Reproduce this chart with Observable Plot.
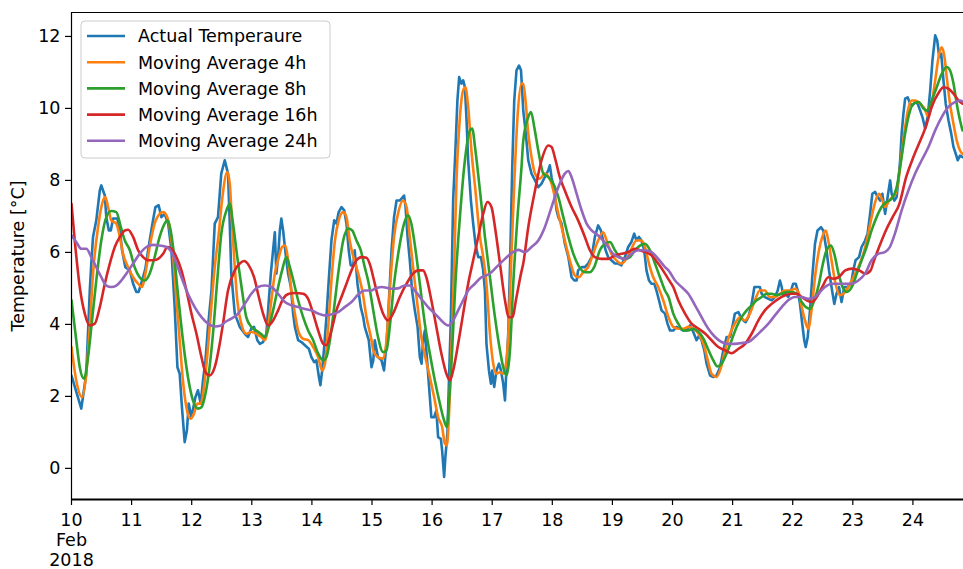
<!DOCTYPE html>
<html>
<head>
<meta charset="utf-8">
<script src="https://cdn.jsdelivr.net/npm/d3@7"></script>
<script src="https://cdn.jsdelivr.net/npm/@observablehq/plot@0.6"></script>
<style>
  html, body { margin: 0; padding: 0; background: #fff; }
  #chart { width: 963px; height: 569px; overflow: hidden; }
</style>
</head>
<body>
<div id="chart"></div>
<script>
// Hourly temperature readings, 10–24 Feb 2018, and their trailing moving averages.
// Each point is [hours since 2018-02-10 00:00 UTC, °C].
const actual = [[0,2.58],[3.9,1.66],[5.9,2.63],[7.3,4.94],[7.9,5.69],[8.6,6.43],[9.9,6.89],[11.3,7.72],[11.9,7.86],[13.3,7.58],[13.9,6.98],[14.9,6.61],[15.7,6.61],[16.6,6.94],[18.3,6.94],[19.3,6.61],[20.2,6.06],[21.5,5.59],[23.3,5.5],[24.6,5.13],[25.9,4.9],[26.8,4.9],[28.2,5.22],[29.5,5.55],[30.6,6.06],[32.2,6.75],[33.5,7.26],[34.8,7.31],[35.9,6.98],[37.2,7.07],[38.6,6.8],[39.9,6.06],[41.2,4.48],[42.3,2.81],[43.2,2.63],[44.1,1.7],[45.2,0.73],[46.1,1.06],[46.8,1.8],[47.9,1.42],[49.5,1.98],[50.5,2.17],[51.6,1.8],[52.5,2.44],[53.5,3.0],[54.5,3.93],[55.9,4.94],[57.2,6.8],[58.5,6.98],[59.8,8.19],[61.2,8.56],[62.5,8.19],[63.2,6.8],[63.8,5.41],[65.2,4.3],[67.2,3.93],[69.2,3.74],[70.5,3.65],[71.8,3.88],[72.9,3.93],[74.2,3.56],[75.2,3.46],[76.5,3.51],[77.8,3.74],[78.5,4.39],[79.6,5.41],[80.5,6.06],[81.2,6.56],[81.8,5.41],[82.5,5.87],[83.2,6.61],[83.8,6.94],[84.5,6.61],[85.2,6.15],[85.8,5.78],[86.5,5.41],[87.6,5.04],[88.5,4.3],[89.2,3.93],[90.5,3.56],[91.8,3.51],[93.2,3.42],[94.8,3.32],[95.8,3.09],[96.9,2.95],[97.8,3.0],[98.8,2.54],[99.4,2.31],[100.1,2.72],[100.9,3.37],[101.8,4.2],[102.8,5.31],[103.8,6.33],[104.9,6.89],[105.8,6.8],[106.7,7.12],[107.8,7.26],[108.9,7.17],[109.8,6.8],[110.7,6.06],[111.5,5.64],[112.5,5.64],[113.1,6.06],[114.2,5.13],[115.5,4.48],[116.5,4.2],[117.1,3.93],[118.7,3.56],[119.8,2.81],[120.5,3.0],[121.1,3.56],[122.4,3.09],[123.8,3.0],[124.8,2.72],[125.8,3.46],[126.7,4.58],[127.8,6.06],[128.8,6.98],[129.8,7.44],[131.1,7.44],[132.8,7.58],[133.4,7.26],[134.2,6.43],[135.1,5.78],[136.0,4.94],[137.1,4.39],[138.2,3.93],[139.1,3.09],[139.8,2.91],[140.4,3.56],[141.1,3.83],[141.7,3.28],[142.7,2.35],[143.7,1.42],[144.8,1.42],[145.7,1.61],[146.4,0.87],[147.5,0.82],[148.0,0.5],[148.8,-0.24],[149.3,0.31],[150.1,0.96],[150.7,2.35],[151.5,4.2],[152.4,7.44],[153.3,8.83],[154.1,10.22],[154.8,10.87],[155.7,10.69],[156.4,10.78],[157.1,10.59],[157.7,9.76],[158.4,8.56],[159.5,7.44],[160.4,6.8],[161.3,6.24],[162.4,5.87],[163.5,5.87],[164.4,5.5],[165.1,4.94],[165.7,3.46],[166.7,2.72],[167.5,2.35],[168.0,2.72],[168.8,2.26],[169.7,2.72],[170.7,2.91],[171.5,2.72],[172.4,2.35],[173.1,1.89],[173.7,2.81],[174.4,3.74],[175.1,5.59],[176.0,8.37],[176.8,10.22],[177.7,11.06],[178.7,11.19],[179.5,11.06],[180.4,9.94],[181.3,9.39],[182.4,8.56],[183.7,8.19],[185.1,8.0],[186.4,7.81],[187.7,7.91],[189.0,8.09],[190.4,8.28],[191.0,8.42],[191.7,8.09],[192.8,7.72],[193.7,7.17],[194.4,6.98],[195.7,6.8],[197.0,6.24],[198.4,5.87],[199.7,5.31],[200.8,5.22],[201.7,5.22],[202.3,5.5],[203.7,5.59],[205.0,5.59],[206.3,5.69],[207.7,5.87],[209.0,6.43],[210.3,6.75],[211.4,6.61],[212.3,6.33],[213.3,6.06],[214.3,5.87],[215.6,5.78],[217.0,5.69],[218.3,5.69],[219.6,5.64],[221.0,5.87],[222.3,6.15],[223.6,6.29],[224.7,6.52],[225.6,6.33],[226.6,6.43],[227.6,6.33],[228.7,6.06],[229.6,5.5],[230.6,5.22],[231.6,5.13],[232.7,5.13],[233.6,4.94],[234.6,4.67],[235.6,4.39],[237.0,4.3],[238.0,4.02],[239.0,3.83],[240.3,3.83],[241.6,3.93],[243.0,3.88],[244.3,3.83],[245.6,3.83],[247.0,3.97],[248.3,3.79],[249.6,3.56],[250.6,3.69],[251.6,3.56],[252.7,3.28],[253.6,2.91],[255.0,2.58],[256.3,2.54],[257.6,2.58],[259.0,2.81],[260.3,3.28],[261.6,3.65],[263.0,3.65],[263.9,3.93],[264.9,4.3],[266.3,4.34],[267.3,4.2],[268.3,4.11],[269.2,4.06],[270.3,4.2],[271.6,4.57],[272.7,5.04],[273.6,5.04],[274.9,5.04],[275.6,4.85],[276.9,4.76],[278.3,4.71],[279.6,4.67],[280.9,4.76],[282.0,4.94],[282.9,5.22],[283.6,5.04],[284.2,4.81],[285.2,4.85],[286.2,4.76],[287.3,4.94],[288.2,5.13],[289.2,5.13],[290.0,4.94],[290.9,4.57],[291.8,4.02],[292.6,3.56],[293.2,3.37],[294.0,3.65],[294.9,4.39],[295.8,5.31],[296.9,6.24],[297.9,6.61],[299.3,6.7],[300.2,6.61],[301.5,6.06],[302.5,5.5],[303.5,5.04],[304.6,4.57],[305.5,4.85],[306.5,5.04],[307.5,4.62],[308.6,5.04],[309.9,5.04],[311.3,5.13],[312.2,5.5],[313.1,5.78],[314.5,5.87],[315.5,6.15],[316.9,6.33],[317.9,6.52],[318.9,7.07],[319.8,7.63],[320.9,7.68],[321.9,7.54],[322.9,7.44],[323.8,7.63],[324.9,7.07],[325.9,7.54],[326.9,8.0],[327.5,7.63],[328.6,7.44],[329.5,7.54],[330.2,8.0],[330.9,8.56],[331.5,9.3],[332.2,9.85],[332.9,10.27],[333.9,10.31],[334.9,10.13],[335.8,10.08],[336.9,10.18],[337.9,10.13],[338.9,9.94],[339.8,9.76],[340.9,9.44],[341.9,9.76],[342.9,10.5],[343.8,11.33],[344.9,12.03],[345.7,11.89],[346.5,11.43],[347.3,11.52],[348.2,10.78],[349.1,10.13],[350.2,9.67],[351.3,9.3],[352.2,8.93],[353.1,8.74],[353.9,8.56],[354.8,8.69],[355.8,8.65]];

const ma4h = [[0,3.37],[1.9,2.44],[4.2,1.98],[5.9,2.63],[7.3,3.93],[8.6,5.41],[10.6,6.7],[12.6,7.44],[13.5,7.54],[14.6,7.26],[15.9,6.89],[17.9,6.8],[19.3,6.43],[20.6,5.96],[22.6,5.59],[24.6,5.31],[26.6,5.13],[28.2,5.04],[29.5,5.41],[31.2,6.15],[33.2,6.8],[35.2,7.07],[36.6,7.12],[37.9,7.03],[39.2,6.7],[40.5,5.96],[41.9,4.67],[43.2,3.56],[44.5,2.44],[46.3,1.56],[47.6,1.38],[48.9,1.52],[50.3,1.8],[51.6,1.8],[52.9,2.26],[54.3,3.19],[55.6,4.3],[57.2,5.59],[58.8,6.52],[60.1,7.44],[62.2,8.23],[63.2,7.91],[64.1,6.8],[65.2,5.59],[66.2,4.67],[67.8,4.02],[69.8,3.74],[71.8,3.79],[73.8,3.74],[75.8,3.65],[77.2,3.56],[78.5,3.93],[79.8,4.67],[81.2,5.41],[82.8,5.87],[84.1,6.15],[85.4,6.19],[86.5,5.78],[87.8,4.94],[89.2,4.3],[90.5,3.83],[92.5,3.6],[94.5,3.56],[96.5,3.37],[98.5,3.09],[100.1,2.72],[101.2,2.91],[102.5,3.93],[103.8,5.22],[105.2,6.33],[106.7,6.89],[108.5,7.12],[109.8,6.98],[111.1,6.33],[112.9,5.78],[114.5,5.41],[116.1,4.94],[117.8,4.2],[119.8,3.56],[120.5,3.28],[122.4,3.09],[124.4,3.05],[125.8,3.56],[127.1,4.94],[128.8,6.43],[130.7,7.17],[132.4,7.44],[133.8,7.26],[135.1,6.43],[136.4,5.59],[138.1,4.57],[139.7,3.65],[141.3,3.09],[143.1,2.54],[144.8,1.98],[146.4,1.42],[148.0,1.15],[149.1,0.69],[149.9,0.64],[150.7,1.42],[151.7,3.28],[152.8,5.59],[153.7,7.91],[155.1,9.76],[156.4,10.5],[157.3,10.59],[158.4,10.04],[159.7,8.83],[161.3,7.72],[163.1,6.43],[164.4,5.87],[165.7,5.13],[167.1,3.74],[168.4,2.91],[169.7,2.63],[171.1,2.67],[172.4,2.63],[173.3,2.81],[174.4,3.65],[175.5,5.59],[176.8,7.91],[178.1,9.76],[179.7,10.69],[180.4,10.69],[181.3,10.22],[182.4,9.3],[183.7,8.65],[185.1,8.19],[187.0,8.05],[189.0,8.19],[190.6,8.09],[191.7,7.91],[193.0,7.54],[194.4,7.07],[195.7,6.7],[197.3,6.24],[199.0,5.78],[201.0,5.36],[202.6,5.31],[204.3,5.45],[206.3,5.59],[208.3,5.96],[210.3,6.33],[212.3,6.56],[213.7,6.33],[215.6,5.96],[217.6,5.78],[219.6,5.69],[221.6,5.82],[223.6,6.1],[225.6,6.33],[227.6,6.33],[229.0,6.15],[230.6,5.69],[232.3,5.31],[234.3,5.04],[236.3,4.67],[238.4,4.2],[240.3,3.93],[242.3,3.88],[244.3,3.88],[246.3,3.93],[248.3,3.88],[250.4,3.74],[252.4,3.46],[254.1,3.0],[255.6,2.63],[257.6,2.54],[259.4,2.81],[261.0,3.28],[263.0,3.74],[264.9,4.02],[266.9,4.2],[268.9,4.11],[270.9,4.3],[272.9,4.67],[274.9,4.94],[276.9,4.94],[278.9,4.76],[280.9,4.76],[282.9,4.85],[284.9,4.94],[286.9,4.94],[288.9,4.99],[290.5,4.85],[291.6,4.48],[292.9,4.11],[294.2,3.88],[295.5,4.39],[296.9,5.31],[298.5,6.06],[299.8,6.43],[301.2,6.61],[302.2,6.33],[303.5,5.78],[305.1,5.13],[306.9,4.81],[308.2,4.85],[310.2,5.04],[312.2,5.31],[314.2,5.59],[316.2,5.96],[317.9,6.43],[319.5,6.98],[321.1,7.44],[322.5,7.63],[323.8,7.44],[324.9,7.26],[326.5,7.44],[327.8,7.54],[329.1,7.63],[330.2,8.0],[331.5,8.74],[332.9,9.48],[334.3,10.04],[335.5,10.22],[337.1,10.22],[338.9,10.13],[340.6,10.0],[342.2,9.76],[343.5,10.13],[344.9,10.78],[346.5,11.52],[347.5,11.7],[348.6,11.43],[349.5,10.87],[350.8,10.13],[352.2,9.57],[353.5,9.11],[354.8,8.83],[355.8,8.74]];

const ma8h = [[0,4.67],[1.9,3.56],[3.3,2.81],[5.0,2.49],[6.6,3.09],[8.2,4.11],[9.9,5.22],[11.9,6.33],[13.9,6.98],[15.9,7.15],[17.9,7.12],[19.7,6.7],[21.3,6.33],[23.3,6.06],[25.2,5.59],[27.2,5.31],[29.2,5.22],[31.2,5.41],[33.2,5.87],[35.2,6.43],[37.2,6.8],[38.3,6.89],[39.6,6.61],[40.9,5.96],[42.5,4.85],[44.5,3.56],[46.5,2.54],[48.5,1.89],[50.5,1.66],[51.9,1.7],[53.2,1.98],[54.8,2.63],[56.5,3.74],[58.2,5.22],[59.8,6.5],[61.9,7.17],[63.2,7.35],[64.5,6.8],[66.2,5.87],[68.1,4.94],[69.8,4.2],[71.8,3.93],[73.8,3.83],[75.6,3.74],[77.2,3.65],[78.8,3.93],[80.5,4.39],[82.2,4.94],[84.1,5.5],[85.8,5.87],[87.2,5.59],[88.9,5.13],[90.5,4.67],[92.5,4.2],[94.5,3.83],[96.5,3.56],[98.5,3.19],[100.5,3.0],[101.8,3.09],[103.2,3.56],[104.9,4.48],[106.5,5.41],[108.5,6.33],[110.5,6.66],[112.1,6.61],[113.8,6.33],[115.5,6.06],[117.1,5.59],[118.5,5.2],[120.5,4.39],[122.4,3.65],[124.4,3.23],[125.8,3.28],[127.1,3.93],[128.8,5.13],[130.7,6.06],[132.8,6.8],[134.4,7.03],[135.7,6.8],[137.4,6.06],[139.1,5.13],[141.1,4.02],[143.1,3.19],[145.1,2.44],[147.1,1.8],[148.8,1.33],[149.9,1.15],[150.7,1.8],[152.0,3.28],[153.3,5.13],[155.1,6.98],[157.1,8.56],[159.1,9.39],[160.0,9.44],[161.3,8.83],[163.1,7.72],[165.1,6.43],[167.1,5.31],[169.1,4.2],[171.1,3.28],[172.4,2.81],[173.7,2.58],[175.1,3.28],[176.4,5.13],[178.1,6.98],[179.7,8.37],[180.4,9.1],[182.4,9.76],[183.5,9.9],[184.8,9.48],[186.4,8.83],[188.4,8.19],[190.4,8.09],[192.4,7.91],[194.4,7.54],[196.4,6.98],[198.4,6.43],[200.4,5.96],[202.4,5.64],[205.0,5.45],[207.0,5.45],[208.7,5.59],[211.0,6.06],[213.0,6.24],[215.0,6.29],[217.0,6.06],[219.0,5.87],[221.0,5.82],[223.0,5.87],[225.0,6.06],[227.0,6.19],[229.0,6.24],[231.0,6.06],[233.0,5.69],[235.0,5.31],[237.0,4.94],[238.4,4.76],[240.3,4.3],[242.3,4.02],[244.3,3.83],[246.3,3.83],[248.3,3.88],[250.4,3.79],[252.4,3.6],[254.4,3.28],[256.3,3.0],[258.0,2.83],[259.6,2.91],[261.6,3.19],[263.6,3.56],[265.6,3.93],[267.6,4.2],[269.6,4.39],[271.6,4.53],[273.6,4.67],[275.6,4.76],[277.6,4.85],[279.6,4.85],[281.6,4.81],[283.6,4.85],[285.6,4.9],[287.6,4.9],[289.6,4.85],[291.6,4.62],[293.2,4.48],[294.9,4.43],[296.6,4.67],[298.5,5.13],[299.8,5.6],[301.5,6.06],[303.3,6.19],[304.6,5.96],[306.3,5.41],[307.9,5.04],[309.6,4.9],[311.6,5.04],[313.6,5.41],[315.5,5.78],[317.5,6.15],[319.5,6.61],[321.5,6.98],[323.5,7.26],[325.5,7.4],[327.5,7.49],[329.5,7.81],[331.3,8.56],[332.9,9.3],[334.5,9.85],[336.2,10.13],[338.3,10.18],[340.2,10.0],[341.6,9.94],[343.5,10.22],[345.5,10.59],[347.5,10.96],[349.5,11.15],[350.8,11.06],[352.2,10.69],[353.5,10.13],[354.8,9.67],[355.8,9.39]];

const ma16h = [[0,7.35],[1.3,6.33],[3.3,5.04],[5.3,4.3],[7.3,3.97],[9.3,4.02],[11.3,4.48],[13.3,5.13],[15.3,5.69],[17.3,6.15],[19.3,6.43],[21.3,6.61],[22.6,6.63],[24.6,6.43],[26.6,6.06],[28.6,5.87],[30.6,5.78],[32.6,5.78],[34.6,5.82],[36.6,5.96],[38.3,6.15],[39.9,6.1],[41.9,5.87],[43.9,5.5],[45.9,4.94],[47.9,4.3],[49.9,3.74],[51.9,3.09],[53.5,2.67],[55.2,2.58],[57.2,2.81],[59.2,3.46],[60.5,4.02],[62.5,4.94],[65.2,5.5],[67.2,5.69],[68.9,5.76],[70.8,5.64],[72.9,5.31],[74.8,4.76],[76.5,4.3],[78.5,3.97],[80.5,4.11],[82.5,4.39],[84.5,4.71],[86.8,4.85],[89.4,4.87],[92.5,4.85],[94.5,4.71],[96.5,4.3],[98.5,3.83],[100.5,3.46],[101.8,3.42],[103.8,3.83],[105.8,4.39],[107.8,4.76],[109.8,5.13],[111.8,5.5],[113.8,5.78],[115.8,5.87],[117.8,5.85],[119.5,5.59],[120.5,5.31],[122.4,4.76],[124.4,4.3],[126.4,4.11],[128.4,4.3],[131.1,4.76],[133.8,5.13],[136.4,5.41],[138.4,5.5],[140.4,5.5],[141.7,5.31],[143.7,4.67],[145.7,3.93],[147.7,3.19],[149.7,2.63],[151.1,2.44],[152.4,2.72],[154.4,3.46],[156.4,4.3],[158.4,5.13],[160.4,5.78],[162.4,6.43],[164.4,7.07],[166.1,7.4],[167.7,7.26],[169.3,6.61],[171.1,5.69],[173.1,4.67],[174.7,4.2],[176.0,4.2],[177.7,4.76],[179.5,5.41],[180.4,5.69],[182.4,6.7],[185.1,7.72],[187.7,8.56],[190.4,8.97],[191.7,8.93],[193.3,8.56],[195.0,8.09],[197.0,7.72],[199.7,7.26],[202.3,6.89],[205.0,6.43],[207.0,6.06],[209.0,5.87],[211.7,5.82],[214.3,5.82],[217.0,5.92],[219.6,5.96],[222.3,6.01],[225.0,6.1],[227.0,6.06],[229.0,6.01],[231.6,5.92],[234.3,5.69],[237.0,5.41],[238.4,5.25],[240.3,5.04],[242.3,4.67],[245.0,4.3],[247.6,4.02],[250.4,3.88],[253.1,3.74],[255.6,3.56],[258.3,3.37],[261.0,3.28],[263.6,3.2],[266.3,3.32],[269.0,3.46],[271.6,3.74],[274.3,4.11],[276.9,4.39],[279.6,4.57],[282.3,4.71],[285.0,4.81],[287.6,4.85],[289.6,4.85],[291.6,4.76],[293.6,4.67],[295.6,4.62],[297.6,4.76],[299.8,5.04],[302.2,5.31],[304.2,5.27],[306.3,5.31],[309.0,5.5],[311.7,5.55],[314.5,5.5],[317.1,5.41],[319.1,5.5],[320.5,5.78],[322.5,6.15],[325.2,6.61],[327.9,6.98],[330.6,7.35],[333.3,8.09],[335.7,8.56],[338.4,9.02],[341.1,9.48],[343.5,10.04],[346.4,10.45],[348.2,10.59],[350.2,10.55],[352.2,10.41],[354.2,10.22],[355.8,10.13]];

const ma24h = [[0,6.47],[1.9,6.29],[3.9,6.1],[5.9,6.1],[7.9,5.87],[9.9,5.59],[11.9,5.31],[13.9,5.08],[15.9,5.04],[17.9,5.08],[19.9,5.22],[21.9,5.41],[24.6,5.69],[27.2,5.96],[29.9,6.15],[32.6,6.21],[35.2,6.19],[37.9,6.15],[39.9,6.01],[41.9,5.69],[43.9,5.31],[46.5,4.85],[49.2,4.48],[51.9,4.2],[54.5,4.02],[57.2,3.94],[59.8,3.97],[61.2,4.06],[63.8,4.16],[66.5,4.3],[69.2,4.57],[71.8,4.85],[74.5,5.04],[77.2,5.08],[79.8,5.04],[82.5,4.85],[85.2,4.62],[87.8,4.53],[90.5,4.48],[93.2,4.43],[95.8,4.39],[98.5,4.3],[101.2,4.25],[103.8,4.28],[106.5,4.34],[109.1,4.48],[111.8,4.62],[114.5,4.83],[117.1,4.94],[119.8,4.94],[121.1,4.99],[123.8,5.04],[127.8,4.99],[130.4,5.0],[133.1,5.08],[135.1,5.08],[137.1,4.94],[139.7,4.71],[142.4,4.48],[145.1,4.3],[147.7,4.11],[150.4,3.97],[152.4,4.11],[154.4,4.39],[156.4,4.67],[158.4,4.94],[161.1,5.13],[163.7,5.31],[165.7,5.36],[167.7,5.45],[170.4,5.64],[173.1,5.82],[175.7,5.98],[178.4,6.07],[181.1,6.01],[183.7,6.15],[186.4,6.33],[189.0,6.7],[191.7,7.26],[194.4,7.81],[197.0,8.19],[198.4,8.26],[199.7,8.09],[201.7,7.63],[203.7,7.17],[205.7,6.8],[207.7,6.61],[210.3,6.47],[212.3,6.33],[214.3,6.15],[216.3,5.96],[218.3,5.87],[221.0,5.82],[223.6,5.96],[226.3,6.06],[229.0,6.06],[231.6,6.01],[234.3,5.82],[237.0,5.59],[238.4,5.5],[241.0,5.22],[243.6,5.04],[246.3,4.85],[249.0,4.53],[251.6,4.2],[254.3,3.88],[257.0,3.65],[259.6,3.51],[262.3,3.46],[264.9,3.46],[267.6,3.48],[270.3,3.51],[272.9,3.65],[275.6,3.83],[278.3,4.02],[280.9,4.25],[283.6,4.48],[286.2,4.67],[288.9,4.76],[291.6,4.76],[294.2,4.71],[296.9,4.76],[298.2,4.85],[300.9,5.04],[303.5,5.13],[306.2,5.13],[308.9,5.13],[311.6,5.13],[314.2,5.22],[316.9,5.41],[319.5,5.78],[322.1,5.96],[324.8,6.01],[326.8,6.15],[328.8,6.52],[331.5,7.17],[334.2,7.72],[336.9,8.19],[339.5,8.56],[342.2,8.93],[344.9,9.39],[347.5,9.76],[350.2,10.04],[352.9,10.18],[354.8,10.22],[356.2,10.18]];

const seriesNames = ["Actual Temperaure", "Moving Average 4h", "Moving Average 8h", "Moving Average 16h", "Moving Average 24h"];
const seriesData = [actual, ma4h, ma8h, ma16h, ma24h];
const seriesColors = ["#1f77b4", "#ff7f0e", "#2ca02c", "#d62728", "#9467bd"];
const yTicks = [0, 2, 4, 6, 8, 10, 12];

const start = Date.UTC(2018, 1, 10);
const HOUR = 3600e3;
const toDate = h => new Date(start + h * HOUR);
const xDomain = [toDate(0), toDate(356.2)];
const yDomain = [-0.865, 12.665];
const dayTicks = d3.utcDay.range(toDate(0), toDate(15 * 24));
const dayLabel = d => d.getUTCDate() === 10 ? "10\nFeb\n2018" : String(d.getUTCDate());

const FONT = "DejaVu Sans";

const lineMarks = seriesData.map((pts, i) =>
  Plot.line(pts, {
    x: p => toDate(p[0]),
    y: p => p[1],
    stroke: seriesColors[i],
    strokeWidth: 2.6,
    curve: i === 0 ? "linear" : "monotone-x",
    clip: true
  })
);

const chart = Plot.plot({
  width: 963,
  height: 569,
  marginLeft: 71,
  marginRight: 0,
  marginTop: 12,
  marginBottom: 70,
  style: { fontFamily: FONT, fontSize: "17.5px", color: "#000", background: "#fff", overflow: "visible" },
  x: { type: "utc", domain: xDomain },
  y: { domain: yDomain },
  marks: [
    ...lineMarks,
    Plot.ruleX([xDomain[0]], { stroke: "#000", strokeWidth: 1.2 }),
    Plot.ruleY([yDomain[1]], { stroke: "#000", strokeWidth: 1.2 }),
    Plot.ruleY([yDomain[0]], { stroke: "#000", strokeWidth: 2 }),
    Plot.axisX({
      ticks: dayTicks, tickFormat: dayLabel, tickSize: 6, tickPadding: 7,
      lineHeight: 1.12, label: null, stroke: "#000", strokeWidth: 1.2
    }),
    Plot.axisY({
      ticks: yTicks, tickFormat: d => String(d), tickSize: 6, tickPadding: 5,
      label: "Temperature [°C]", labelAnchor: "center", labelArrow: false, labelOffset: 60,
      stroke: "#000", strokeWidth: 1.2
    })
  ]
});

document.getElementById("chart").appendChild(chart);

// Legend box in the upper-left corner of the plot area
const svg = d3.select(chart);
const legend = svg.append("g")
  .attr("font-family", FONT)
  .attr("font-size", "17.5px")
  .attr("text-anchor", "start");
const lx = 81, ly = 21, rowH = 26.2;
legend.append("rect")
  .attr("x", lx).attr("y", ly).attr("width", 249).attr("height", 137)
  .attr("rx", 4).attr("fill", "#fff").attr("fill-opacity", 0.8)
  .attr("stroke", "#cccccc").attr("stroke-width", 1);
seriesNames.forEach((name, i) => {
  const cy = ly + 15 + i * rowH;
  legend.append("line")
    .attr("x1", lx + 6).attr("x2", lx + 44).attr("y1", cy).attr("y2", cy)
    .attr("stroke", seriesColors[i]).attr("stroke-width", 2.6);
  legend.append("text")
    .attr("x", lx + 57).attr("y", cy).attr("dy", "0.365em")
    .attr("text-anchor", "start")
    .attr("fill", "#000").text(name);
});
</script>
</body>
</html>
